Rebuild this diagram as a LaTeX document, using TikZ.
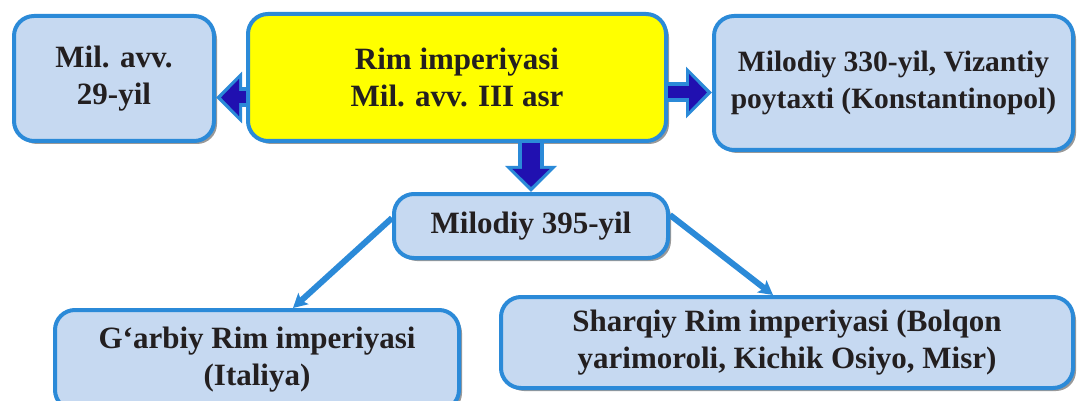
\documentclass[tikz,border=0pt]{standalone}
\usepackage{fontspec}
\setmainfont{Liberation Serif}
\usetikzlibrary{arrows.meta,positioning,calc,shadows}
\definecolor{rimfill}{HTML}{C6D9F1}
\definecolor{rimedge}{HTML}{2B8AD8}
\definecolor{rimdark}{HTML}{2010B0}
\definecolor{rimyel}{HTML}{FFFF00}
\definecolor{rimtext}{HTML}{231F20}
\tikzset{
  box/.style={draw=rimedge, line width=4pt, rounded corners=20pt, fill=rimfill, align=center,
    text=rimtext, inner sep=0pt, font=\fontsize{31}{37}\selectfont\bfseries,
    drop shadow={shadow xshift=3pt, shadow yshift=-3pt, fill=black!40, opacity=1}},
  top/.style={box, fill=rimyel},
  blkout/.style={line width=20pt, draw=rimedge, -{Triangle[width=50pt,length=26pt]}},
  blkin/.style={line width=12pt, draw=rimdark, -{Triangle[width=36pt,length=18pt]}, shorten >=5pt},
  fl/.style={-{Stealth[length=14pt,width=15pt,inset=3pt]}, line width=6pt, draw=rimedge},
}
\begin{document}
\begin{tikzpicture}[x=1pt,y=-1pt]
  \useasboundingbox (0,0) rectangle (1079,401);
  % ---- top row ----
  \node[top, minimum width=418pt, minimum height=127pt] (rim) at (457,77.5) {Rim imperiyasi\\Mil. avv. III asr};
  \node[box, minimum width=200pt, minimum height=125pt] (yrs29) at (114,78.5) {Mil. avv.\\29-yil};
  \node[box, minimum width=359pt, minimum height=134pt, font=\fontsize{29.5}{37}\selectfont\bfseries] (konst) at (893.5,83) {Milodiy 330-yil, Vizantiy\\poytaxti (Konstantinopol)};
  % ---- middle ----
  \node[box, minimum width=274pt, minimum height=64pt] (y395) at (531,226) {Milodiy 395-yil};
  % ---- bottom row ----
  \node[box, minimum width=404pt, minimum height=100pt] (garb) at (257,360) {G‘arbiy Rim imperiyasi\\(Italiya)};
  \node[box, minimum width=572pt, minimum height=91pt] (sharq) at (787,342.5) {Sharqiy Rim imperiyasi (Bolqon\\yarimoroli, Kichik Osiyo, Misr)};
  % ---- block arrows ----
  \coordinate (la) at ([yshift=-20pt]rim.west);
  \coordinate (ra) at ([yshift=-15pt]rim.east);
  \coordinate (da) at (y395.north |- rim.south);
  \foreach \s in {blkout,blkin} {
    \draw[\s] (la) -- (yrs29.east |- la);
    \draw[\s] (ra) -- (konst.west |- ra);
  }
  \foreach \s/\w in {blkout/26,blkin/18} \draw[\s, line width=\w pt] (da) -- (y395.north);
  % ---- split ----
  \draw[fl] ([yshift=8pt]y395.west) -- ([xshift=36pt]garb.north);
  \draw[fl] ([yshift=11pt]y395.east) -- ([xshift=-14pt]sharq.north);
\end{tikzpicture}
\end{document}
